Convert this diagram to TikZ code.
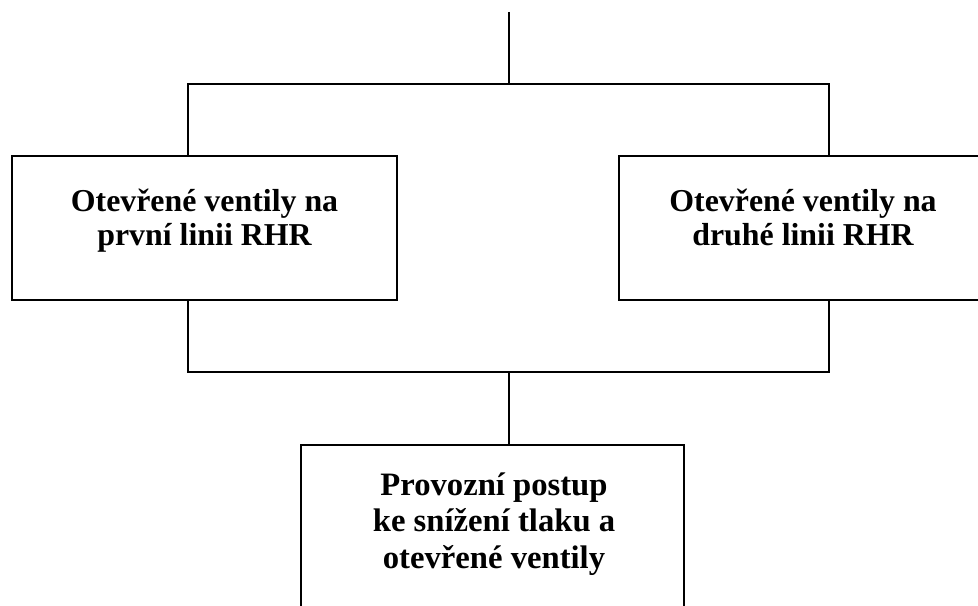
\documentclass[tikz,border=0pt]{standalone}
\usepackage{fontspec}
\setmainfont{Liberation Serif}
\begin{document}
\begin{tikzpicture}[x=0.75pt, y=-0.75pt,
  box/.style={draw=black, line width=1.1pt, fill=white, rectangle, inner sep=0pt},
  wire/.style={draw=black, line width=1.5pt},
  lbl/.style={font=\bfseries\fontsize{23.9}{27}\selectfont, anchor=base, inner sep=0pt},
  lblb/.style={font=\bfseries\fontsize{24.5}{28}\selectfont, anchor=base, inner sep=0pt}]
  % page frame
  \useasboundingbox (0,0) rectangle (978,606);
  \clip (0,0) rectangle (978,606);

  % boxes (centre and size in px units)
  \node[box, minimum width=288.75pt, minimum height=108pt] (L) at (204.5,228) {};
  \node[box, minimum width=276pt, minimum height=108pt] (R) at (803,228) {};
  \node[box, minimum width=287.25pt, minimum height=135pt] (B) at (492.5,535) {};

  % labels
  \node[lbl] (L1) at (204.5,212) {Otevřené ventily na};
  \node[lbl] (L2) at (204.5,245) {první linii RHR};
  \node[lbl] (R1) at (803,212) {Otevřené ventily na};
  \node[lbl] (R2) at (803,245) {druhé linii RHR};
  \node[lblb] (B1) at (494,495) {Provozní postup};
  \node[lblb] (B2) at (494,531.5) {ke snížení tlaku a};
  \node[lblb] (B3) at (494,568) {otevřené ventily};

  % connector geometry
  \coordinate (top) at (509,12);
  \coordinate (busT) at (509,84);
  \coordinate (busB) at (509,372);
  \coordinate (xL) at (188,0);
  \coordinate (xR) at (829,0);

  % incoming line and upper split
  \draw[wire] (top) -- (busT);
  \draw[wire] (L.north -| xL) |- (busT -| xR) -- (R.north -| xR);
  % lower join and outgoing line
  \draw[wire] (L.south -| xL) |- (busB -| xR) -- (R.south -| xR);
  \draw[wire] (busB) -- (B.north -| busB);
\end{tikzpicture}
\end{document}
